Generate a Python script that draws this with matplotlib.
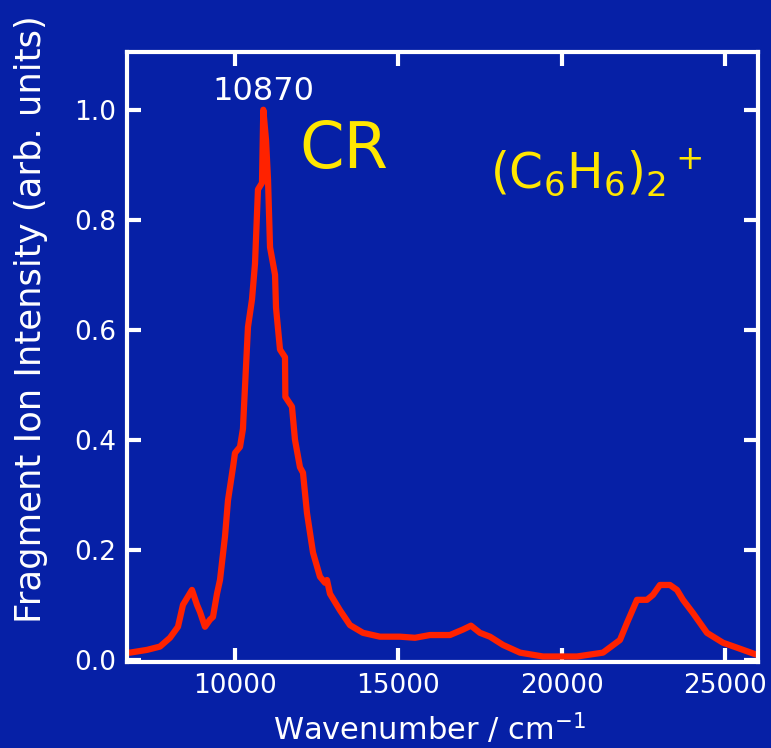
import matplotlib
matplotlib.use("Agg")
import matplotlib.pyplot as plt

plt.rcParams['font.family'] = ['DejaVu Sans']
plt.rcParams['mathtext.default'] = 'regular'

wavenumber = [6700, 6792, 7312, 7709, 8015, 8260, 8413, 8688, 8841, 8933, 9086, 9239, 9331,
              9453, 9545, 9698, 9790, 9943, 10004, 10157, 10248, 10260, 10401, 10524, 10616,
              10707, 10830, 10870, 10953, 11014, 11076, 11229, 11259, 11381, 11534, 11545,
              11747, 11839, 11992, 12084, 12206, 12390, 12604, 12757, 12818, 12910, 13216,
              13522, 13919, 14439, 15051, 15510, 15969, 16580, 16978, 17223, 17498, 17804,
              18202, 18722, 19425, 20466, 21261, 21781, 21995, 22301, 22607, 22790, 23004,
              23310, 23525, 23708, 24014, 24442, 24932, 25360, 25972]
intensity = [0.013, 0.013, 0.018, 0.024, 0.040, 0.060, 0.100, 0.127, 0.100, 0.087, 0.060, 0.073, 0.078,
             0.120, 0.145, 0.224, 0.290, 0.350, 0.376, 0.387, 0.420, 0.436, 0.605, 0.655, 0.720,
             0.855, 0.867, 1.000, 0.945, 0.873, 0.750, 0.700, 0.640, 0.564, 0.550, 0.478,
             0.460, 0.400, 0.350, 0.340, 0.267, 0.195, 0.151, 0.140, 0.145, 0.120, 0.090,
             0.063, 0.049, 0.042, 0.042, 0.040, 0.045, 0.045, 0.055, 0.062, 0.049, 0.042,
             0.027, 0.013, 0.006, 0.006, 0.013, 0.036, 0.067, 0.109, 0.109, 0.118, 0.136,
             0.136, 0.127, 0.109, 0.085, 0.049, 0.031, 0.022, 0.009]

x_ticks = [10000, 15000, 20000, 25000]
y_ticks = [0.0, 0.2, 0.4, 0.6, 0.8, 1.0]
peak_label = "10870"
peak_pos = 10870

bg = '#0620a6'
fig = plt.figure(figsize=(7.71, 7.48), dpi=100, facecolor=bg)
ax = fig.add_axes([0.1647, 0.115, 0.8183, 0.8155], facecolor=bg)

ax.plot(wavenumber, intensity, color='#ff2200', lw=4.5, solid_joinstyle='round', solid_capstyle='round')

ax.set_xlim(6700, 26000)
ax.set_ylim(-0.004, 1.105)
ax.set_xticks(x_ticks)
ax.set_xticklabels([str(t) for t in x_ticks])
ax.set_yticks(y_ticks)
ax.set_yticklabels([f"{t:.1f}" for t in y_ticks])

for s in ax.spines.values():
    s.set_color('white')
    s.set_linewidth(3)
ax.tick_params(direction='in', length=10, width=3, color='white', labelcolor='white',
               labelsize=19, top=True, right=True, pad=8)

ax.set_xlabel('Wavenumber / cm$^{-1}$', color='white', fontsize=22)
ax.set_ylabel('Fragment Ion Intensity (arb. units)', color='white', fontsize=25.5)
ax.xaxis.set_label_coords(0.48, -0.081)
ax.yaxis.set_label_coords(-0.125, 0.562)

ax.text(peak_pos, 1.018, peak_label, color='white', fontsize=23, ha='center', va='baseline')
ax.text(0.274, 0.81, 'CR', color='#ffe600', fontsize=46, ha='left', va='baseline', transform=ax.transAxes)
ax.text(0.575, 0.777, '(C$_6$H$_6$)$_2$$^+$', color='#ffe600', fontsize=35, ha='left', va='baseline',
        transform=ax.transAxes)

fig.savefig('out.png', dpi=100, facecolor=bg)
